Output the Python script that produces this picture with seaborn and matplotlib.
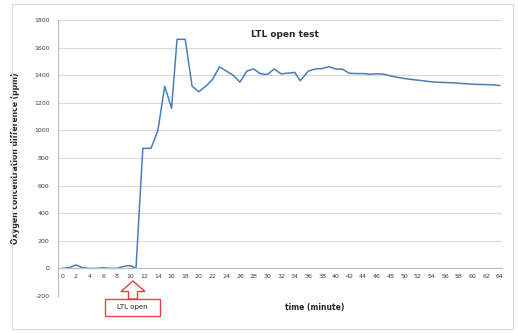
import numpy as np
import pandas as pd
import matplotlib
matplotlib.use("Agg")
import matplotlib.pyplot as plt
import seaborn as sns
from matplotlib.patches import Rectangle, Polygon

sns.set_theme(style="white")
plt.rcParams['font.family'] = ['DejaVu Sans']

# values (time in minutes, O2 difference in ppm)
time_min = [0, 1, 2, 3, 4, 5, 6, 7, 8, 9, 10, 10.8,
            11.8, 13, 14, 15, 16, 16.8, 18, 19, 20, 21, 22, 23,
            24, 25, 26, 27, 28, 29, 30, 31, 32, 33, 34, 34.8,
            36, 37, 38, 39, 40, 41, 42, 43, 44, 45, 46, 47,
            48, 49, 50, 51, 52, 53, 54, 55, 56, 57, 58, 59,
            60, 61, 62, 63, 64]
o2_diff = [0, 5, 25, 5, 0, 0, 5, 0, 0, 15, 20, 0,
           870, 870, 1000, 1320, 1160, 1660, 1660, 1320, 1280, 1320, 1370, 1460,
           1430, 1400, 1350, 1430, 1445, 1410, 1405, 1445, 1410, 1415, 1420, 1360,
           1430, 1445, 1448, 1462, 1445, 1443, 1414, 1412, 1412, 1407, 1410, 1408,
           1395, 1385, 1376, 1370, 1364, 1358, 1352, 1349, 1347, 1345, 1342, 1338,
           1335, 1333, 1332, 1330, 1325]
x_ticks = list(range(0, 65, 2))
y_ticks = list(range(-200, 1801, 200))

df = pd.DataFrame({'time': time_min, 'o2': o2_diff})

W, H = 518, 333
fig = plt.figure(figsize=(W / 100, H / 100), dpi=100)
ax = fig.add_axes([58 / W, 1 - 296 / H, 444 / W, 276 / H])

sns.lineplot(data=df, x='time', y='o2', ax=ax, color='#4A7EBB', linewidth=1.1)

for s in ['top', 'right']:
    ax.spines[s].set_visible(False)
ax.spines['left'].set_color('#BFBFBF')
ax.spines['left'].set_linewidth(0.8)
ax.spines['bottom'].set_position(('data', 0))
ax.spines['bottom'].set_color('#BFBFBF')
ax.spines['bottom'].set_linewidth(0.8)

ax.set_xlim(-0.6, 64.3)
ax.set_ylim(-200, 1800)
ax.set_yticks(y_ticks)
ax.set_yticklabels([str(v) for v in y_ticks], fontsize=4.5, color='#404040')
ax.set_xticks(x_ticks)
ax.set_xticklabels([str(v) for v in x_ticks], fontsize=4.5, color='#404040')
ax.set_xticks(range(0, 65), minor=True)
ax.yaxis.grid(True, color='#D9D9D9', linewidth=0.8)
ax.set_axisbelow(True)

ax.tick_params(axis='x', which='both', direction='inout', length=2.5, width=0.5,
               color='#BFBFBF', pad=3)
ax.tick_params(axis='y', length=0, pad=6)

ax.set_xlabel('time (minute)', fontsize=5.5, fontweight='bold')
ax.xaxis.set_label_coords((315 - 58) / 444, -0.024)
ax.set_ylabel('Oxygen concentration difference (ppm)', fontsize=5.5, fontweight='bold')
ax.yaxis.set_label_coords(-0.085, 0.5)
ax.text(0.51, 0.949, 'LTL open test', transform=ax.transAxes, ha='center', va='center',
        fontsize=6.5, fontweight='bold')


def fp(px, py):
    return (px / W, 1 - py / H)


# outer chart border
fig.patches.append(Rectangle(fp(12, 329), 501 / W, 325 / H, transform=fig.transFigure,
                             fill=False, edgecolor='#D9D9D9', linewidth=0.8))

# "LTL open" callout with hollow arrow
red = '#E8413C'
arrow = [fp(133, 281), fp(145, 291.5), fp(137.5, 291.5), fp(137.5, 299),
         fp(128.5, 299), fp(128.5, 291.5), fp(121, 291.5)]
fig.patches.append(Polygon(arrow, closed=True, transform=fig.transFigure,
                           facecolor='white', edgecolor=red, linewidth=1.0))
fig.patches.append(Rectangle(fp(105, 316), 55 / W, 17 / H, transform=fig.transFigure,
                             facecolor='white', edgecolor=red, linewidth=1.0))
fig.text(*fp(132.5, 307.5), 'LTL open', ha='center', va='center', fontsize=5)

fig.savefig('out.png', dpi=100)
